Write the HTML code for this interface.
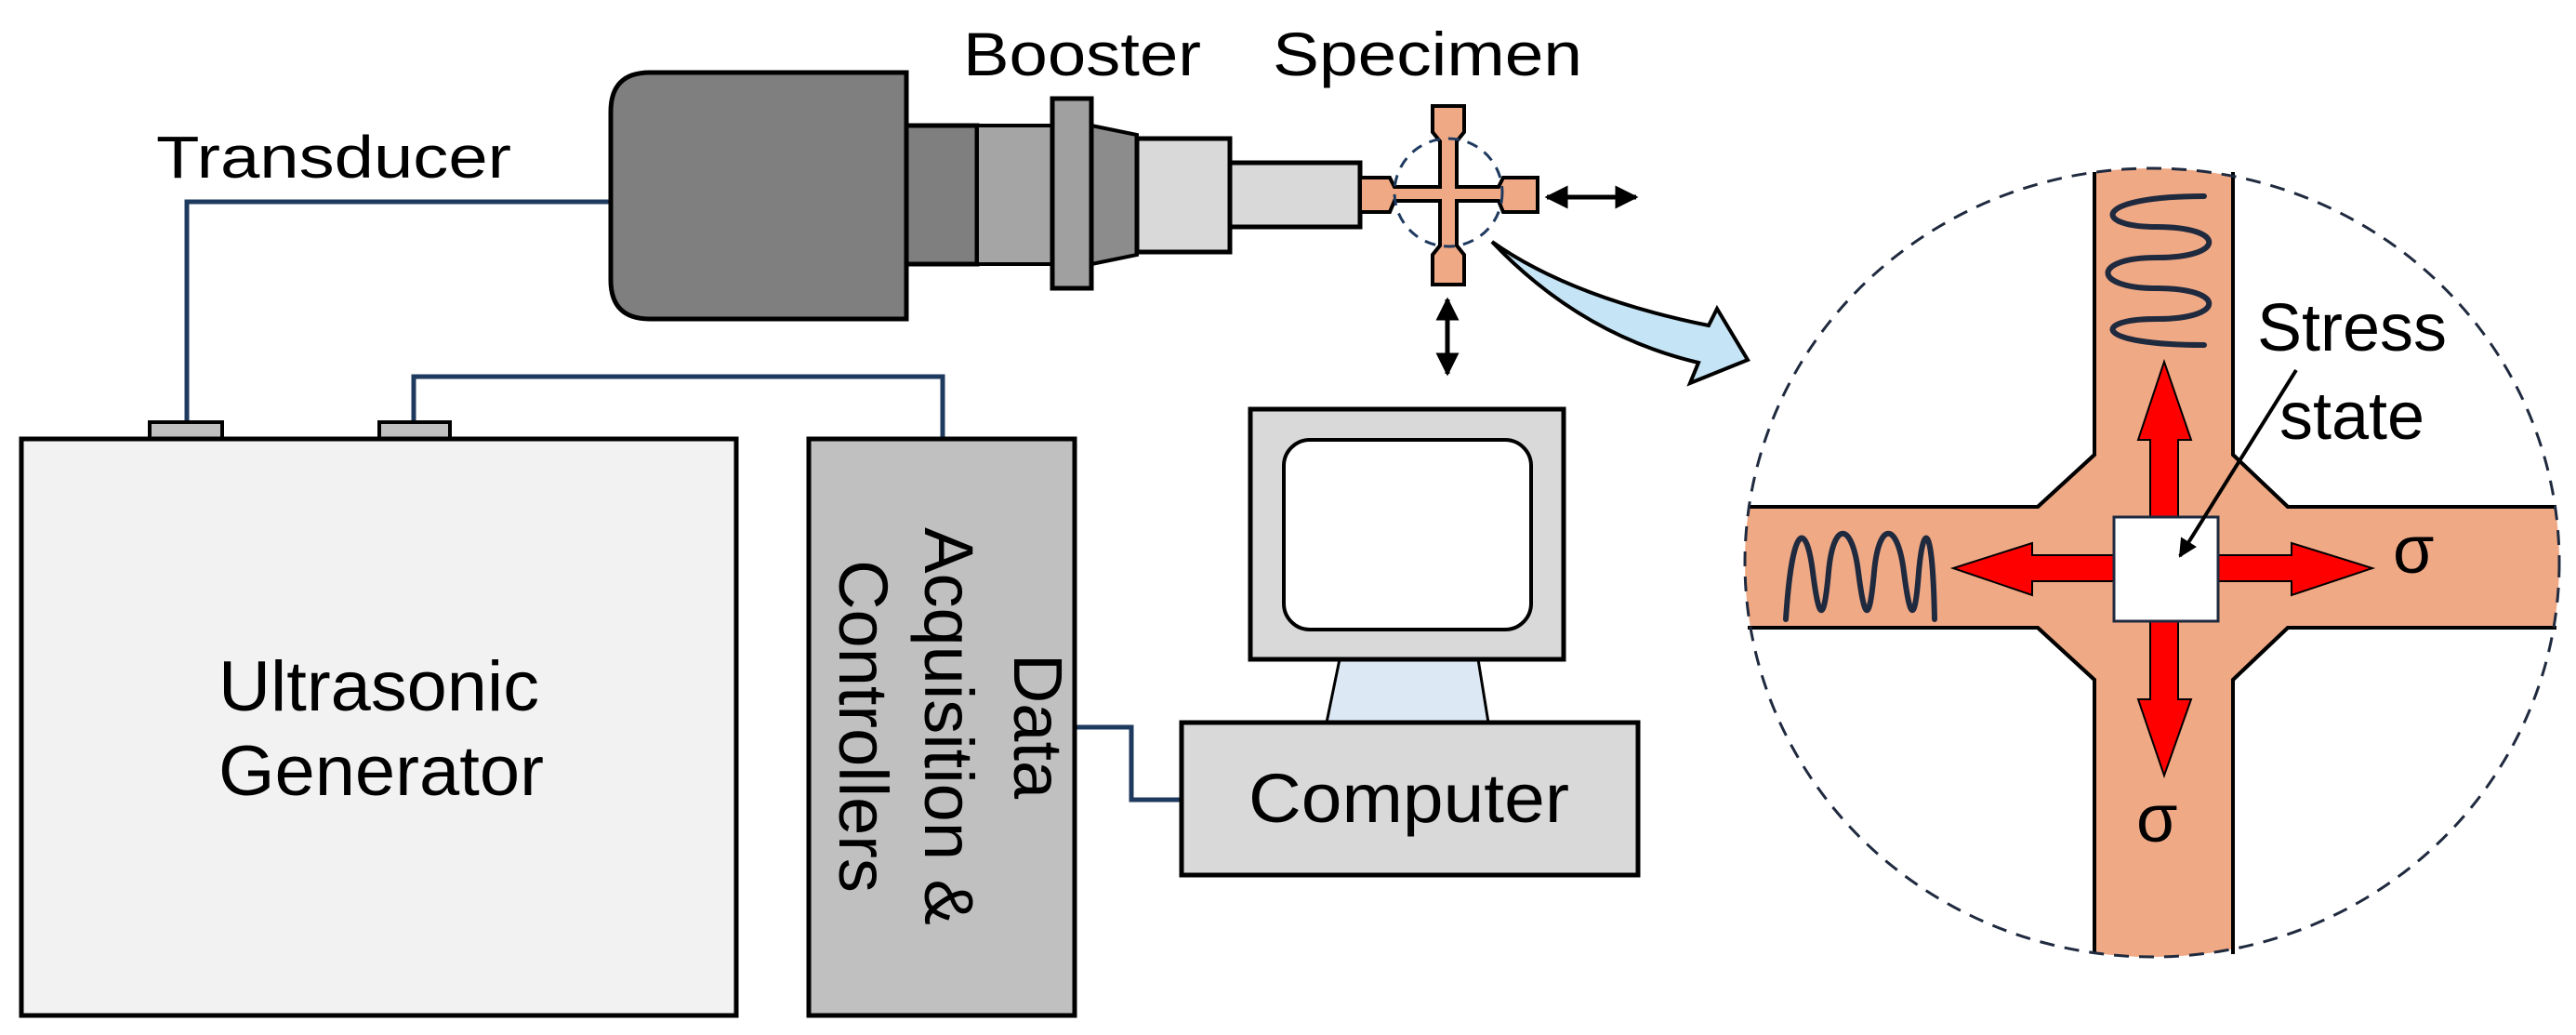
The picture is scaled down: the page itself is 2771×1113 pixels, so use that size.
<!DOCTYPE html>
<html><head><meta charset="utf-8"><style>
html,body{margin:0;padding:0;background:#fff;}
svg{display:block;}
text{font-family:"Liberation Sans",Arial,sans-serif;fill:#000;}
</style></head><body>
<svg width="2771" height="1113" viewBox="0 0 2771 1113" xmlns="http://www.w3.org/2000/svg">
<defs>
<marker id="ah" viewBox="0 0 10 10" refX="9" refY="5" markerWidth="5" markerHeight="5" orient="auto-start-reverse"><path d="M0,0 L10,5 L0,10 z" fill="#000"/></marker>
<clipPath id="cc"><ellipse cx="2315" cy="605" rx="438" ry="424"/></clipPath>
</defs>
<polyline points="201,456 201,217 774,217" fill="none" stroke="#1f3a5f" stroke-width="5"/>
<polyline points="445,456 445,405 1014,405 1014,472" fill="none" stroke="#1f3a5f" stroke-width="5"/>
<polyline points="1156,782 1217,782 1217,860 1271,860" fill="none" stroke="#1f3a5f" stroke-width="5"/>

<path d="M699,78 L975,78 L975,343 L699,343 Q657,343 657,301 L657,120 Q657,78 699,78 Z" fill="#7f7f7f" stroke="#000" stroke-width="5"/>
<rect x="975" y="135" width="76" height="149" fill="#7f7f7f" stroke="#000" stroke-width="5"/>
<rect x="1051" y="135" width="81" height="149" fill="#a5a5a5" stroke="#000" stroke-width="4"/>
<path d="M1174,135 L1223,145 L1223,274 L1174,284 Z" fill="#8c8c8c" stroke="#000" stroke-width="4"/>
<rect x="1132" y="106" width="42" height="204" fill="#a0a0a0" stroke="#000" stroke-width="5"/>
<rect x="1223" y="149" width="100" height="122" fill="#d9d9d9" stroke="#000" stroke-width="5"/>
<rect x="1323" y="175" width="140" height="69" fill="#d9d9d9" stroke="#000" stroke-width="5"/>

<path d="M1463,191 L1495,191 L1500,201 L1549,201 L1549,152 L1541,142 L1541,114 L1575,114 L1575,142 L1567,152 L1567,201 L1612,201 L1617,191 L1654,191 L1654,228 L1617,228 L1612,216 L1567,216 L1567,264 L1575,274 L1575,306 L1541,306 L1541,274 L1549,264 L1549,216 L1500,216 L1495,228 L1463,228 Z" fill="#f0a985" stroke="#000" stroke-width="4"/>
<circle cx="1558" cy="207" r="58" fill="none" stroke="#1f3a5f" stroke-width="3" stroke-dasharray="12,9"/>
<line x1="1664" y1="212" x2="1760" y2="212" stroke="#000" stroke-width="5" marker-start="url(#ah)" marker-end="url(#ah)"/>
<line x1="1557" y1="322" x2="1557" y2="402" stroke="#000" stroke-width="5" marker-start="url(#ah)" marker-end="url(#ah)"/>

<path d="M1605,260 Q1690,320 1838,350 L1847,332 L1880,387 L1818,412 L1827,390 Q1700,360 1605,260 Z" fill="#c5e4f5" stroke="#000" stroke-width="4"/>

<text x="168" y="191" font-size="64" textLength="382" lengthAdjust="spacingAndGlyphs">Transducer</text>
<text x="1036" y="81" font-size="66" textLength="256" lengthAdjust="spacingAndGlyphs">Booster</text>
<text x="1369" y="81" font-size="66" textLength="333" lengthAdjust="spacingAndGlyphs">Specimen</text>

<rect x="161" y="454" width="78" height="19" fill="#c0c0c0" stroke="#000" stroke-width="4"/>
<rect x="408" y="454" width="76" height="19" fill="#c0c0c0" stroke="#000" stroke-width="4"/>
<rect x="23" y="472" width="769" height="620" fill="#f2f2f2" stroke="#000" stroke-width="5"/>
<text x="235" y="764" font-size="76" textLength="345" lengthAdjust="spacingAndGlyphs">Ultrasonic</text>
<text x="235" y="855" font-size="76" textLength="350" lengthAdjust="spacingAndGlyphs">Generator</text>

<rect x="870" y="472" width="286" height="620" fill="#c0c0c0" stroke="#000" stroke-width="5"/>
<g transform="translate(1013,781) rotate(90)" font-size="74">
<text x="0" y="-78" text-anchor="middle">Data</text>
<text x="0" y="18" text-anchor="middle">Acquisition &amp;</text>
<text x="0" y="110" text-anchor="middle">Controllers</text>
</g>

<path d="M1441,709 L1590,709 L1601,777 L1427,777 Z" fill="#dce9f5" stroke="#000" stroke-width="3"/>
<rect x="1345" y="440" width="337" height="269" fill="#d9d9d9" stroke="#000" stroke-width="5"/>
<rect x="1381" y="473" width="266" height="204" rx="28" fill="#fff" stroke="#000" stroke-width="4"/>
<rect x="1271" y="777" width="491" height="164" fill="#d9d9d9" stroke="#000" stroke-width="5"/>
<text x="1343" y="884" font-size="74" textLength="345" lengthAdjust="spacingAndGlyphs">Computer</text>

<path clip-path="url(#cc)" d="M2253,150 L2402,150 L2402,489 L2461,545 L2780,545 L2780,675 L2461,675 L2402,731 L2402,1060 L2253,1060 L2253,731 L2192,675 L1850,675 L1850,545 L2192,545 L2253,489 Z" fill="#f0a985" stroke="#000" stroke-width="4"/>
<path d="M2253,185 L2253,489 L2192,545 L1880,545 M1880,675 L2192,675 L2253,731 L2253,1026 M2402,1026 L2402,731 L2461,675 L2750,675 M2750,545 L2461,545 L2402,489 L2402,185" fill="none" stroke="#000" stroke-width="4"/>
<ellipse cx="2315" cy="605" rx="438" ry="424" fill="none" stroke="#1f2a3f" stroke-width="3" stroke-dasharray="16,11"/>
<path fill="none" stroke="#1f2a3f" stroke-width="6" stroke-linecap="round" d="M2371,211 C2250,211 2250,244 2320,244 C2395,244 2395,277 2320,277 C2250,277 2250,310 2320,310 C2395,310 2395,343 2320,343 C2250,343 2250,371 2371,371"/>
<path fill="none" stroke="#1f2a3f" stroke-width="6" stroke-linecap="round" d="M1921,666 C1928,560 1943,560 1950,615 C1957,670 1962,670 1967,615 C1972,560 1992,560 1999,615 C2006,670 2011,670 2016,615 C2021,560 2041,560 2048,615 C2055,670 2060,670 2064,615 C2069,560 2079,560 2081,666"/>
<g fill="#ff0000" stroke="#000" stroke-width="2">
<path d="M2313,556 L2313,473 L2300,473 L2328,389 L2357,473 L2343,473 L2343,556 Z"/>
<path d="M2313,668 L2313,752 L2300,752 L2328,834 L2357,752 L2343,752 L2343,668 Z"/>
<path d="M2274,597 L2186,597 L2186,584 L2101,611 L2186,640 L2186,625 L2274,625 Z"/>
<path d="M2386,597 L2465,597 L2465,584 L2552,611 L2465,640 L2465,625 L2386,625 Z"/>
</g>
<rect x="2274" y="556" width="112" height="112" fill="#fff" stroke="#1f2a3f" stroke-width="3"/>
<line x1="2470" y1="398" x2="2345" y2="598" stroke="#000" stroke-width="4" marker-end="url(#ah)"/>
<text x="2428" y="377" font-size="72">Stress</text>
<text x="2452" y="472" font-size="72">state</text>
<text x="2574" y="616" font-size="72">σ</text>
<text x="2298" y="905" font-size="72">σ</text>
</svg>
</body></html>
